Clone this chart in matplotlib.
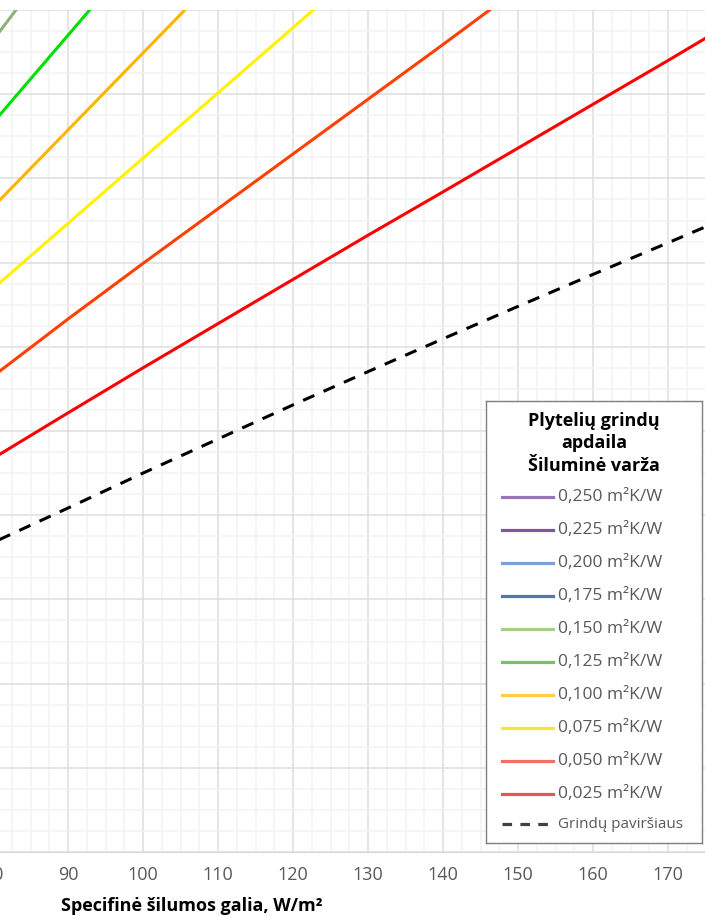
import matplotlib.pyplot as plt
from matplotlib.ticker import MultipleLocator, FuncFormatter

plt.rcParams['font.family'] = ['Open Sans', 'DejaVu Sans']

# specific heat output, W/m2
q = [80, 90, 100, 110, 120, 130, 140, 150, 160, 170, 175]

# temperatures (lines leaving the top are cut short)
t_025 = [29.35, 30.43, 31.50, 32.55, 33.60, 34.65, 35.68, 36.72, 37.76, 38.80, 39.33]
t_050 = [31.30, 32.66, 33.98, 35.28, 36.58, 37.88, 39.18, 40.50]
t_075 = [33.38, 34.93, 36.48, 38.03, 39.58, 41.13]
t_100 = [35.32, 37.15, 38.98, 40.81]
t_125 = [37.32, 39.40, 41.48]
t_150 = [39.28, 41.63]
t_floor = [27.35, 28.17, 29.00, 29.81, 30.62, 31.41, 32.19, 32.96, 33.72, 34.47, 34.85]

line_series = [t_025, t_050, t_075, t_100, t_125, t_150]
line_colors = ['#FF0000', '#FF4000', '#FFF200', '#FFB400', '#00E000', '#8FB07A']

legend_title = ['Plytelių grindų', 'apdaila', 'Šiluminė varža']
legend_labels = ['0,250 m²K/W', '0,225 m²K/W', '0,200 m²K/W', '0,175 m²K/W', '0,150 m²K/W',
                 '0,125 m²K/W', '0,100 m²K/W', '0,075 m²K/W', '0,050 m²K/W', '0,025 m²K/W']
legend_colors = ['#9A74BA', '#7A5A9A', '#7D9FD6', '#5B72B0', '#A6CF8C',
                 '#7DBF5A', '#FFCC44', '#F5E640', '#F27060', '#E85450']
floor_label = 'Grindų paviršiaus'

W, H = 705, 916
fig = plt.figure(figsize=(W / 100, H / 100), dpi=100)

# the picture is a crop: the axes start left of the figure edge
ax = fig.add_axes([-307 / W, 64 / H, 1012.5 / W, 842 / H])
ax.set_xlim(40, 175)
ax.set_ylim(20, 40)
ax.xaxis.set_major_locator(MultipleLocator(10))
ax.xaxis.set_minor_locator(MultipleLocator(2.5))
ax.yaxis.set_major_locator(MultipleLocator(2))
ax.yaxis.set_minor_locator(MultipleLocator(0.5))
# labels left of the crop are not shown
ax.xaxis.set_major_formatter(FuncFormatter(lambda v, p: f'{v:.0f}' if v >= 80 else ''))
ax.grid(which='major', color='#DEDEDE', lw=1.1)
ax.grid(which='minor', color='#F2F2F2', lw=1.1)
ax.set_axisbelow(True)
ax.tick_params(which='both', length=0)
ax.tick_params(axis='x', labelsize=13, labelcolor='#595959', pad=10)
ax.tick_params(axis='y', labelleft=False)
for s in ['top', 'right', 'left']:
    ax.spines[s].set_visible(False)
ax.spines['bottom'].set_color('#D9D9D9')

for vals, c in zip(line_series, line_colors):
    ax.plot(q[:len(vals)], vals, color=c, lw=2.2)
ax.plot(q, t_floor, color='black', lw=2.2, dashes=(4, 3.3))

ax.set_xlabel('Specifinė šilumos galia, W/m²', fontsize=13, fontweight='bold', color='black')
ax.xaxis.set_label_coords((192 + 307) / 1012.5, -(897 - 852) / 842)

# legend box
lax = fig.add_axes([486 / W, 1 - 843 / H, 216 / W, 442 / H])
lax.set_xlim(0, 216)
lax.set_ylim(442, 0)
lax.set_xticks([])
lax.set_yticks([])
lax.set_facecolor('white')
for s in lax.spines.values():
    s.set_color('#7F7F7F')
    s.set_linewidth(1)

for i, t in enumerate(legend_title):
    lax.text(108, 20 + i * 22.5, t, ha='center', va='center', fontsize=13, fontweight='bold')

for i, (lab, c) in enumerate(zip(legend_labels, legend_colors)):
    y = 95.7 + i * 33
    lax.plot([16, 67], [y, y], color=c, lw=2.3)
    lax.text(72, y, lab, ha='left', va='center', fontsize=12.5, color='#595959')

lax.plot([16, 67], [423, 423], color='#404040', lw=2.3, dashes=(3, 2.6))
lax.text(72, 423, floor_label, ha='left', va='center', fontsize=11, color='#595959')

plt.savefig('out.png', dpi=100)
